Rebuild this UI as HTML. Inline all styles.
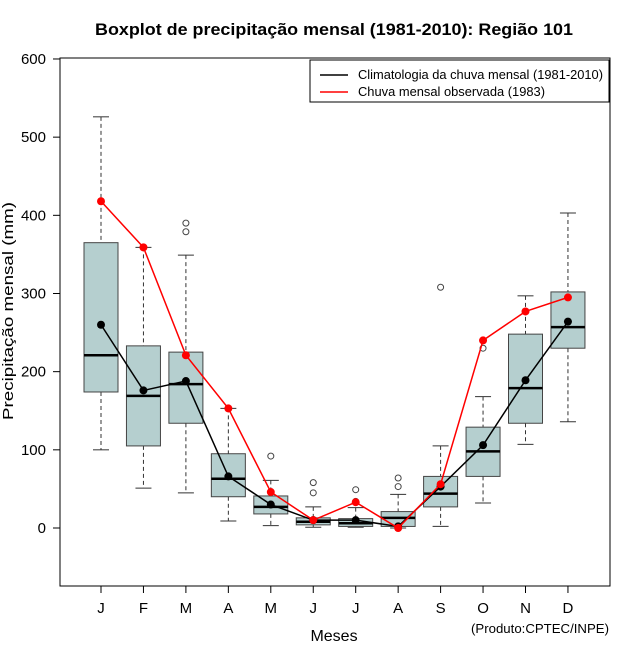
<!DOCTYPE html>
<html><head><meta charset="utf-8"><style>
body{margin:0;background:#fff;font-family:"Liberation Sans",sans-serif}
svg text{font-family:"Liberation Sans",sans-serif}
</style></head><body>
<svg id="c" width="640" height="660">
<text x="334" y="35" text-anchor="middle" font-size="17" font-weight="bold" textLength="478" lengthAdjust="spacingAndGlyphs">Boxplot de precipitação mensal (1981-2010): Região 101</text>
<rect x="60" y="58" width="550" height="528" fill="none" stroke="#000"/>
<g id="g"></g>
<text x="334" y="641" text-anchor="middle" font-size="16">Meses</text>
<text transform="translate(13,311) rotate(-90)" text-anchor="middle" font-size="15" textLength="218" lengthAdjust="spacingAndGlyphs">Precipitação mensal (mm)</text>
<text x="609" y="633" text-anchor="end" font-size="13" textLength="138" lengthAdjust="spacingAndGlyphs">(Produto:CPTEC/INPE)</text>
<g>
<rect x="310" y="60" width="299" height="42" fill="#fff" stroke="#000"/>
<line x1="320" y1="75" x2="348" y2="75" stroke="#000" stroke-width="1.5"/>
<text x="358" y="79" font-size="12.5" textLength="245" lengthAdjust="spacingAndGlyphs">Climatologia da chuva mensal (1981-2010)</text>
<line x1="320" y1="92" x2="348" y2="92" stroke="red" stroke-width="1.5"/>
<text x="358" y="96" font-size="12.5" textLength="187" lengthAdjust="spacingAndGlyphs">Chuva mensal observada (1983)</text>
</g>
</svg>
<script>
const months=["J","F","M","A","M","J","J","A","S","O","N","D"];
const whiskLow=[100,51,45,9,3,1,1,0,2,32,107,136];
const q1=[174,105,134,40,18,4,2,2,27,66,134,230];
const median=[221,169,184,63,27,8,6,13,44,98,179,257];
const q3=[365,233,225,95,41,13,12,21,66,129,248,302];
const whiskHigh=[526,359,349,153,61,27,26,43,105,168,297,403];
const outliers=[[],[],[390,379],[],[92],[58,45],[49,34],[64,53],[308],[230],[],[]];
const climMean=[260,176,188,66,30,10,10,2,53,106,189,264];
const observed=[418,359,221,153,46,10,33,0,56,240,277,295];
const yTicks=[0,100,200,300,400,500,600];
const y=v=>528-v*0.7817;
const x=i=>101+i*42.45;
const g=document.getElementById('g');
const NS="http://www.w3.org/2000/svg";
function mk(t,a){const e=document.createElementNS(NS,t);for(const k in a)e.setAttribute(k,a[k]);g.appendChild(e);return e;}
yTicks.forEach(v=>{
 const l=mk('line',{x1:53,x2:60,y1:y(v),y2:y(v),stroke:'#000'});
 
 
 const t=mk('text',{x:46,y:y(v)+5,'text-anchor':'end','font-size':15});t.textContent=v;
 
 
});
months.forEach((m,i)=>{
 const cx=x(i),hw=17;
 const tk=mk('line',{x1:cx,x2:cx,y1:586,y2:593,stroke:'#000'});
 
 
 const t=mk('text',{x:cx,y:613,'text-anchor':'middle','font-size':15});t.textContent=m;
 
 
 mk('line',{x1:cx,x2:cx,y1:y(whiskHigh[i]),y2:y(q3[i]),stroke:'#333','stroke-dasharray':'4,3'});
 mk('line',{x1:cx,x2:cx,y1:y(q1[i]),y2:y(whiskLow[i]),stroke:'#333','stroke-dasharray':'4,3'});
 mk('line',{x1:cx-8,x2:cx+8,y1:y(whiskHigh[i]),y2:y(whiskHigh[i]),stroke:'#333'});
 mk('line',{x1:cx-8,x2:cx+8,y1:y(whiskLow[i]),y2:y(whiskLow[i]),stroke:'#333'});
 const b=mk('rect',{x:cx-hw,y:y(q3[i]),width:hw*2,height:Math.max(1,y(q1[i])-y(q3[i])),fill:'#b5cfcf',stroke:'#444'});
 
 
 mk('line',{x1:cx-hw,x2:cx+hw,y1:y(median[i]),y2:y(median[i]),stroke:'#000','stroke-width':2.5});
 outliers[i].forEach(o=>{const c=mk('circle',{cx:cx,cy:y(o),r:3,fill:'none',stroke:'#444'});
  
  });
});
function series(arr,col,name){
 const p=mk('polyline',{points:arr.map((v,i)=>x(i)+','+y(v)).join(' '),fill:'none',stroke:col,'stroke-width':1.5});
 
 
 arr.forEach((v,i)=>{const c=mk('circle',{cx:x(i),cy:y(v),r:4,fill:col});
  
  });
}
series(climMean,'#000','climatology');
series(observed,'red','observed');
</script>
</body></html>
